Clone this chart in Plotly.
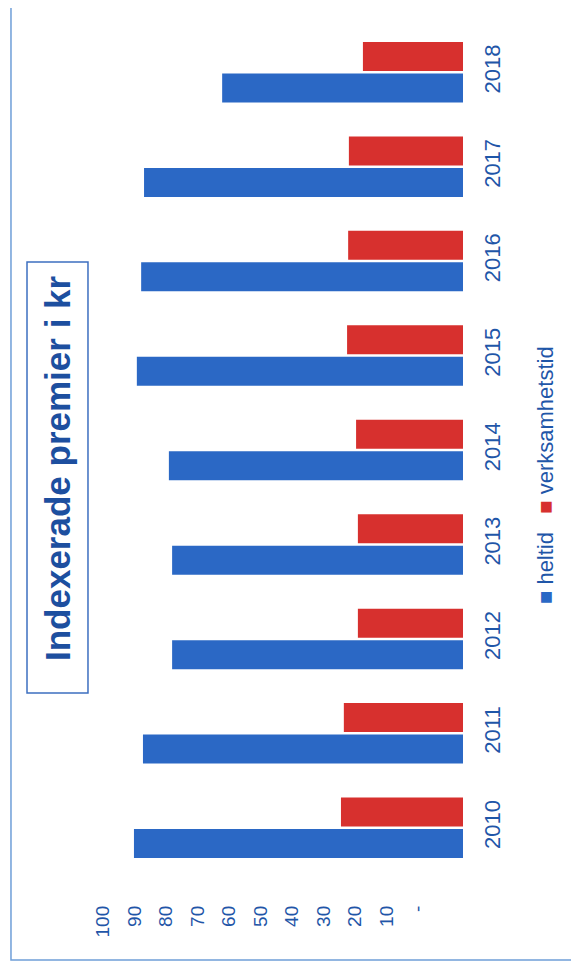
import plotly.graph_objects as go

years = ["2010", "2011", "2012", "2013", "2014", "2015", "2016", "2017", "2018"]
heltid = [91.4, 88.9, 80.8, 80.8, 81.7, 90.6, 89.4, 88.6, 66.9]
verksamhetstid = [33.9, 33.1, 29.2, 29.2, 29.7, 32.2, 31.9, 31.7, 27.8]
tick_vals = [100, 90, 80, 70, 60, 50, 40, 30, 20, 10, 0]
tick_text = ["100", "90", "80", "70", "60", "50", "40", "30", "20", "10", "-"]

BLUE = "#2b68c5"
RED = "#d7302e"
TXT = "#1f56a8"
FONT = "Liberation Sans, Arial, sans-serif"

fig = go.Figure()
fig.add_trace(go.Bar(y=years, x=heltid, orientation="h", name="heltid",
                     marker=dict(color=BLUE, line=dict(width=0))))
fig.add_trace(go.Bar(y=years, x=verksamhetstid, orientation="h", name="verksamhetstid",
                     marker=dict(color=RED, line=dict(width=0))))
# invisible helper trace so the label axis is drawn
fig.add_trace(go.Scatter(x=[tick_vals[0], tick_vals[-1]], y=[years[0], years[0]],
                         xaxis="x2", yaxis="y", mode="markers",
                         marker=dict(opacity=0), hoverinfo="skip", showlegend=False))

fig.update_layout(
    width=563, height=957,
    margin=dict(l=95, r=108, t=17, b=90),
    paper_bgcolor="white", plot_bgcolor="rgba(0,0,0,0)",
    barmode="group", bargap=0.333, bargroupgap=0.08,
    showlegend=False,
    font=dict(family=FONT, color=TXT),
    xaxis=dict(range=[100, 0], domain=[0, 1], showticklabels=False, showgrid=False,
               zeroline=False, showline=False, ticks=""),
    xaxis2=dict(range=[100, 0], domain=[0, 0.875], anchor="y", side="bottom",
                tickmode="array", tickvals=tick_vals, ticktext=tick_text,
                tickangle=-90, tickfont=dict(size=19, color=TXT, family=FONT),
                showgrid=False, zeroline=False, showline=False, ticks="",
                ticklabelstandoff=26),
    yaxis=dict(type="category", side="right", tickangle=-90,
               tickfont=dict(size=22, color=TXT, family=FONT),
               showgrid=False, zeroline=False, showline=False, ticks="",
               ticklabelstandoff=14),
)

# outer frame
fig.add_shape(type="rect", xref="paper", yref="paper",
              x0=-0.2556, x1=1.35, y0=-0.1, y1=1.05,
              line=dict(color="#6f9fd8", width=1.5), fillcolor="rgba(0,0,0,0)")
# title box
fig.add_shape(type="rect", xref="paper", yref="paper",
              x0=-0.2111, x1=-0.0417, y0=0.2141, y1=0.7212,
              line=dict(color="#3d6fc0", width=1.5), fillcolor="rgba(0,0,0,0)")
fig.add_annotation(text="<b>Indexerade premier i kr</b>", xref="paper", yref="paper",
                   x=-0.1264, y=0.4794, xanchor="center", yanchor="middle",
                   showarrow=False, textangle=-90,
                   font=dict(size=35, color="#1d4f9f", family=FONT))
# legend
fig.add_annotation(
    text=f"<span style='color:{BLUE}'>■</span> heltid   <span style='color:{RED}'>■</span> verksamhetstid",
    xref="paper", yref="paper", x=1.2306, y=0.4706, xanchor="center", yanchor="middle",
    showarrow=False, textangle=-90,
    font=dict(size=22, color=TXT, family=FONT))

fig.write_html("out.html")
